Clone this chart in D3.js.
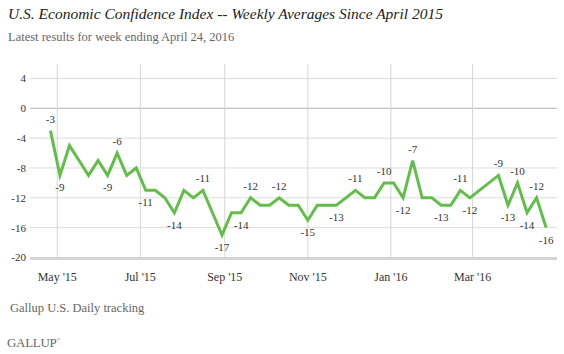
<!DOCTYPE html>
<html>
<head>
<meta charset="utf-8">
<script src="https://cdn.jsdelivr.net/npm/d3@7"></script>
<style>
  body { margin: 0; background: #fff; }
  svg text { font-family: "Liberation Serif", "DejaVu Serif", serif; }
</style>
</head>
<body>
<div id="chart"></div>
<script>
// Week-ending dates (two March 2016 weeks are not plotted in the source)
const weeks = [
  "2015-04-26","2015-05-03","2015-05-10","2015-05-17","2015-05-24","2015-05-31",
  "2015-06-07","2015-06-14","2015-06-21","2015-06-28","2015-07-05","2015-07-12",
  "2015-07-19","2015-07-26","2015-08-02","2015-08-09","2015-08-16","2015-08-23",
  "2015-08-30","2015-09-06","2015-09-13","2015-09-20","2015-09-27","2015-10-04",
  "2015-10-11","2015-10-18","2015-10-25","2015-11-01","2015-11-08","2015-11-15",
  "2015-11-22","2015-11-29","2015-12-06","2015-12-13","2015-12-20","2015-12-27",
  "2016-01-03","2016-01-10","2016-01-17","2016-01-24","2016-01-31","2016-02-07",
  "2016-02-14","2016-02-21","2016-02-28","2016-03-20","2016-03-27","2016-04-03",
  "2016-04-10","2016-04-17","2016-04-24"
];
const confidence = [
  -3, -9, -5, -7, -9, -7,
  -9, -6, -9, -8, -11, -11,
  -12, -14, -11, -12, -11, -14,
  -17, -14, -14, -12, -13, -13,
  -12, -13, -13, -15, -13, -13,
  -13, -12, -11, -12, -12, -10,
  -10, -12, -7, -12, -12, -13,
  -13, -11, -12, -9, -13, -10,
  -14, -12, -16
];
// weeks that carry a value label
const labeledWeeks = [
  "2015-04-26","2015-05-03","2015-06-07","2015-06-14","2015-07-05","2015-07-26",
  "2015-08-16","2015-08-30","2015-09-13","2015-09-20","2015-10-11","2015-11-01",
  "2015-11-22","2015-12-06","2015-12-27","2016-01-10","2016-01-17","2016-02-07",
  "2016-02-21","2016-02-28","2016-03-20","2016-03-27","2016-04-03","2016-04-10",
  "2016-04-17","2016-04-24"
];
const yTicks = [4, 0, -4, -8, -12, -16, -20];

const title = "U.S. Economic Confidence Index -- Weekly Averages Since April 2015";
const subtitle = "Latest results for week ending April 24, 2016";
const source = "Gallup U.S. Daily tracking";

const W = 564, H = 354;
const parse = d3.timeParse("%Y-%m-%d");
const data = weeks.map((w, i) => ({ date: parse(w), value: confidence[i], key: w }));

const svg = d3.select("#chart").append("svg")
  .attr("width", W).attr("height", H);

const x = d3.scaleTime()
  .domain([parse("2015-04-11"), parse("2016-05-02")])
  .range([30, 557]);
const y = d3.scaleLinear()
  .domain([-20, 6])
  .range([257.5, 63.5]);

// Titles
svg.append("text")
  .attr("x", 8).attr("y", 19)
  .style("font-size", "15.5px").style("font-style", "italic").attr("fill", "#222")
  .text(title);
svg.append("text")
  .attr("x", 8).attr("y", 41)
  .style("font-size", "12.5px").attr("fill", "#666")
  .text(subtitle);

// Horizontal grid + y labels
const yAxis = svg.append("g");
yTicks.filter(t => t !== -20).forEach(t => {
  yAxis.append("line")
    .attr("x1", 30).attr("x2", 557)
    .attr("y1", y(t)).attr("y2", y(t))
    .attr("stroke", t === 0 ? "#b3b3b3" : "#dcdcdc")
    .attr("stroke-width", 1);
});
yAxis.selectAll("text.ytick").data(yTicks).enter().append("text")
  .attr("class", "ytick")
  .attr("x", 26).attr("y", d => y(d))
  .attr("dy", "0.35em")
  .attr("text-anchor", "end")
  .style("font-size", "11px").attr("fill", "#333")
  .text(d => d);

// Vertical grid at every other month (only within the data range)
const lastWeek = data[data.length - 1].date;
const monthTicks = x.ticks(d3.timeMonth.every(2)).filter(d => d <= lastWeek);
svg.append("g").selectAll("line").data(monthTicks).enter().append("line")
  .attr("x1", d => x(d)).attr("x2", d => x(d))
  .attr("y1", 64).attr("y2", 257)
  .attr("stroke", "#d6d6d6").attr("stroke-width", 1);

// Baseline
svg.append("line")
  .attr("x1", 30).attr("x2", 557)
  .attr("y1", 258.5).attr("y2", 258.5)
  .attr("stroke", "#d4d4d4").attr("stroke-width", 3);

// X axis labels
const fmt = d3.timeFormat("%b '%y");
svg.append("g").selectAll("text").data(monthTicks).enter().append("text")
  .attr("x", d => x(d)).attr("y", 281)
  .attr("text-anchor", "middle")
  .style("font-size", "12px").attr("fill", "#333")
  .text(d => fmt(d));

// Line
const line = d3.line().x(d => x(d.date)).y(d => y(d.value));
svg.append("path")
  .datum(data)
  .attr("d", line)
  .attr("fill", "none")
  .attr("stroke", "#62bd4b")
  .attr("stroke-width", 3)
  .attr("stroke-linejoin", "miter");

// Value labels: above local highs, below lows
const labeled = data.filter(d => labeledWeeks.includes(d.key));
svg.append("g").selectAll("text").data(labeled).enter().append("text")
  .attr("x", d => x(d.date))
  .attr("y", d => {
    const i = data.indexOf(d);
    const nb = [data[i - 1], data[i + 1]].filter(Boolean).map(n => n.value);
    const above = d.value >= d3.max(nb);
    return above ? y(d.value) - 8 : y(d.value) + 16;
  })
  .attr("text-anchor", "middle")
  .style("font-size", "11px").attr("fill", "#333")
  .text(d => d.value);

// Footer
svg.append("text")
  .attr("x", 10).attr("y", 312)
  .style("font-size", "12.5px").attr("fill", "#666")
  .text(source);
const logo = svg.append("text")
  .attr("x", 7).attr("y", 347)
  .style("font-size", "13px").attr("fill", "#666")
  .style("letter-spacing", "-0.3px")
  .text("GALLUP");
logo.append("tspan")
  .attr("dy", -6).style("font-size", "5px")
  .text("®");
</script>
</body>
</html>
